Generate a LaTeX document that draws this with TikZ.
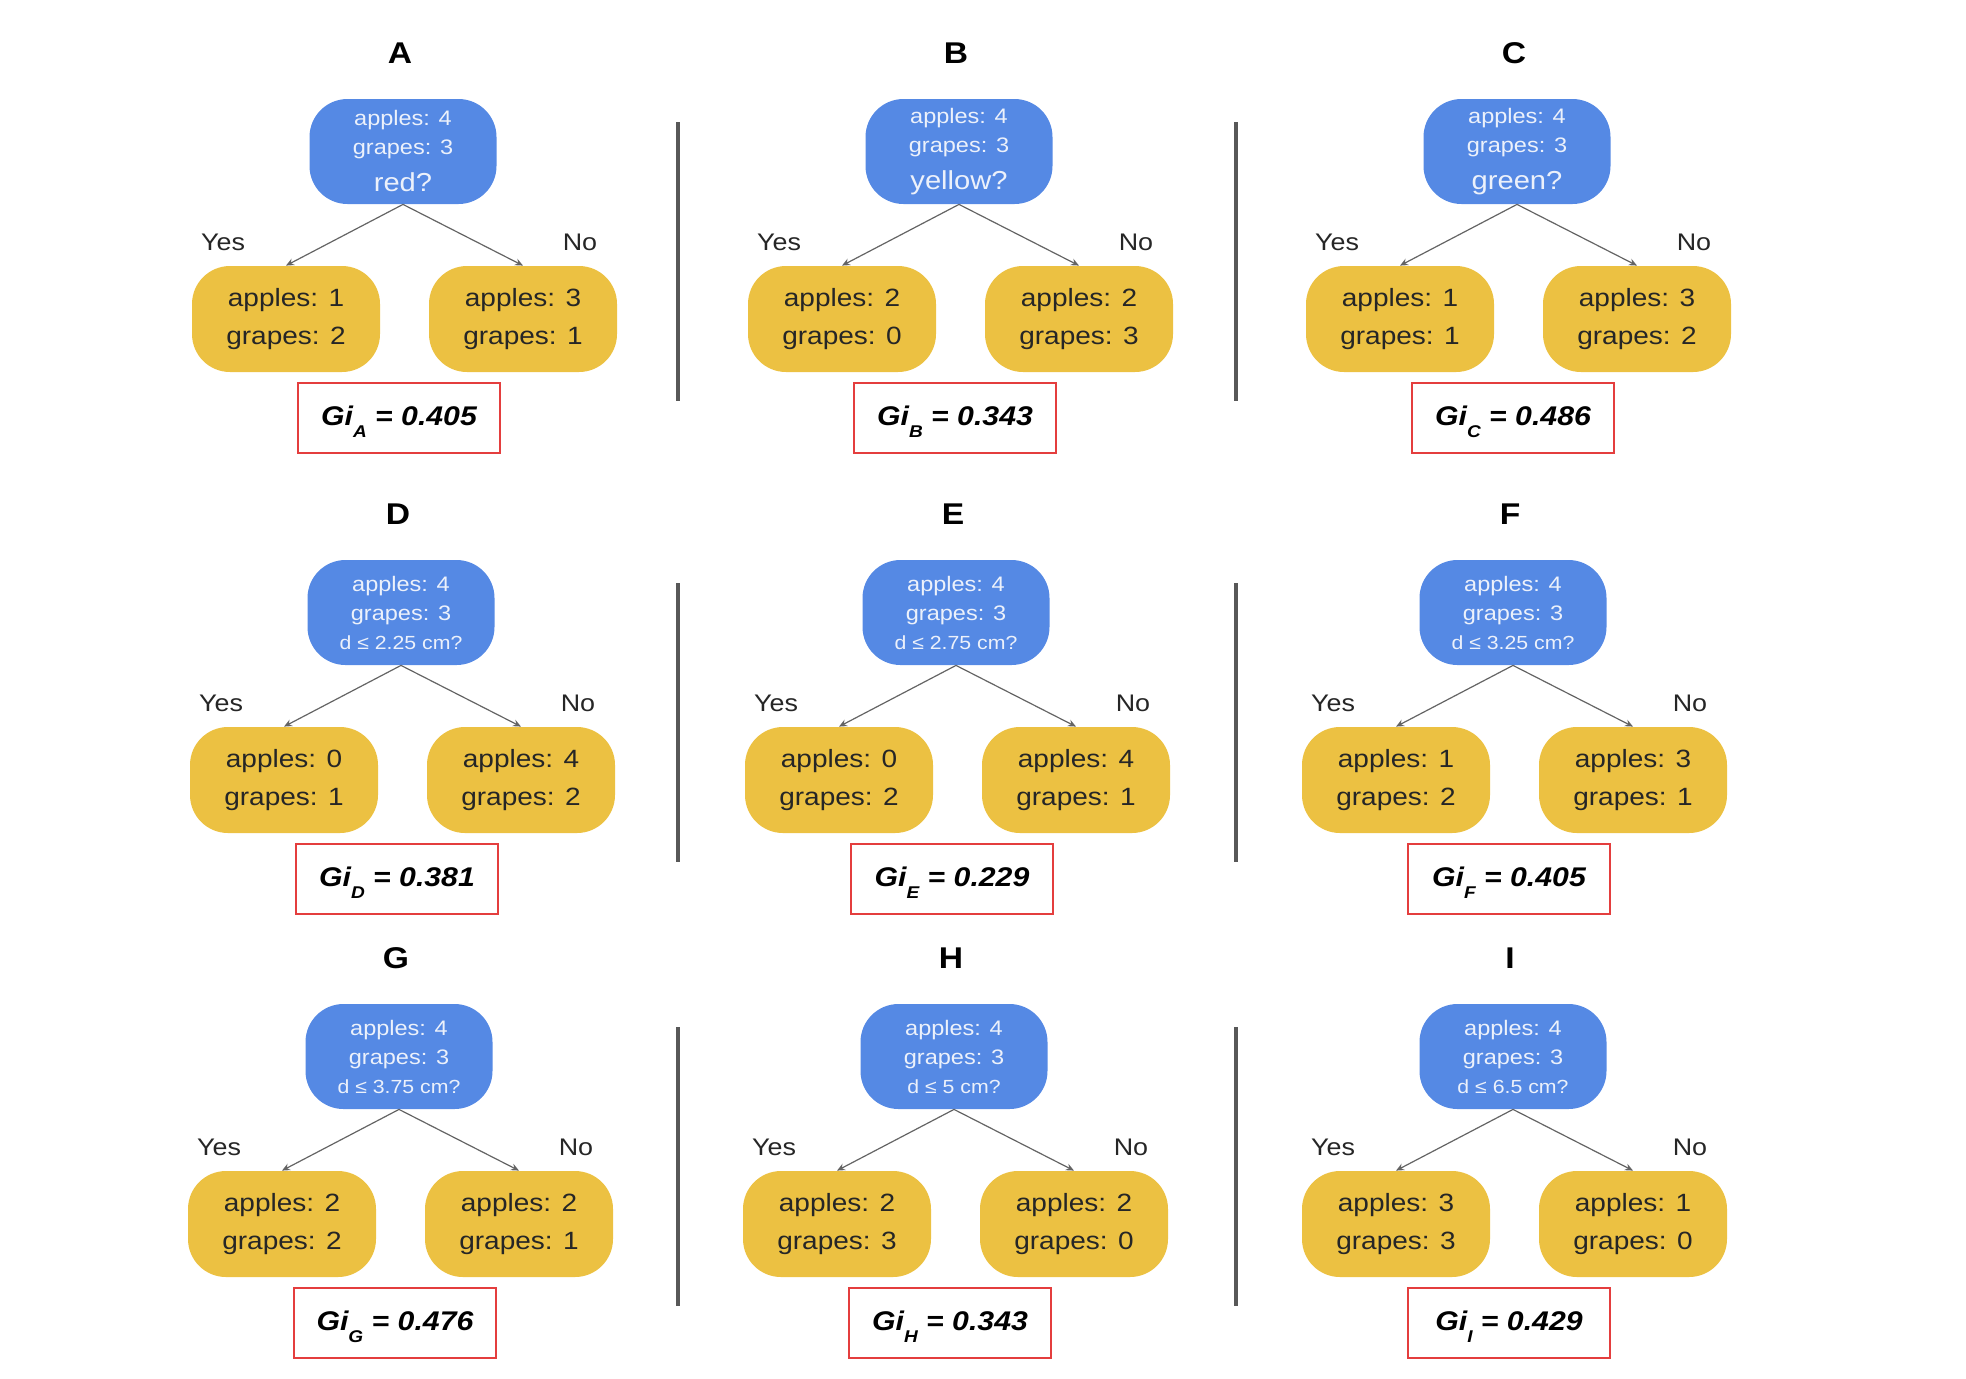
\documentclass[tikz,border=0pt]{standalone}
\usepackage{fontspec}
\setmainfont{Liberation Sans}[FakeStretch=1.12]
\usepackage{xcolor}
\usepackage{tikz}
\usetikzlibrary{arrows.meta}
\definecolor{splitblue}{RGB}{85, 137, 228}
\definecolor{leafyellow}{RGB}{236, 193,  66}
\definecolor{ginired}{RGB}{228,  62,  62}
\definecolor{rulegray}{RGB}{ 88,  88,  88}
\definecolor{arrowgray}{RGB}{100, 100, 100}
\definecolor{paletext}{RGB}{236, 241, 251}
\newcommand{\colq}[1]{\\[4pt]{\fontsize{13}{15}\selectfont #1}}
\newcommand{\distq}[1]{\\{\fontsize{9.5}{12}\selectfont d ≤ #1 cm?}}
\newcommand{\splitpanel}[9]{%
  \node[paneltitle] (#1title) at (#2-3, #3-46) {#1};
  \node[split] (#1root) at (#2, #3+52.5) {apples: 4\\grapes: 3#4};
  \node[leaf] (#1yes) at (#2-117, #3+220) {apples: #5\\grapes: #6};
  \node[leaf] (#1no) at (#2+120, #3+220) {apples: #7\\grapes: #8};
  \node[branch] (#1yeslabel) at (#2-180, #3+143) {Yes};
  \node[branch] (#1nolabel) at (#2+177, #3+143) {No};
  \node[gini] (#1gini) at (#2-4, #3+319) {Gi\raisebox{-6pt}{\fontsize{8.5}{9}\selectfont #1} = #9};
  \draw[arrow] (#1root.south) -- (#1yes.north);
  \draw[arrow] (#1root.south) -- (#1no.north);
}

\begin{document}
\begin{tikzpicture}[x=0.5pt, y=-0.5pt,
  split/.style={fill=splitblue, rounded corners=19pt, text=paletext,
                minimum width=93.5pt, minimum height=52.5pt, inner sep=0pt,
                align=center, font=\fontsize{10.5}{14.5}\selectfont},
  leaf/.style={fill=leafyellow, rounded corners=19pt, text=black!85,
               minimum width=94pt, minimum height=53pt, inner sep=0pt,
               align=center, font=\fontsize{12.5}{18.8}\selectfont},
  gini/.style={draw=ginired, line width=1.3pt, minimum width=101pt,
               minimum height=35pt, text height=9.7pt, text depth=2.2pt,
               font=\fontsize{13.5}{15}\selectfont\bfseries\itshape},
  paneltitle/.style={font=\fontsize{15}{18}\selectfont\bfseries},
  branch/.style={font=\fontsize{12}{14}\selectfont, text=black!85},
  arrow/.style={-{Stealth[length=4pt, width=3.5pt]}, line width=0.6pt, color=arrowgray},
  divider/.style={line width=2pt, color=rulegray}
]
  \useasboundingbox (0,0) rectangle (1966,1378);

  % colour splits
  \splitpanel{A}{403}{99}{\colq{red?}}{1}{2}{3}{1}{0.405}
  \splitpanel{B}{959}{99}{\colq{yellow?}}{2}{0}{2}{3}{0.343}
  \splitpanel{C}{1517}{99}{\colq{green?}}{1}{1}{3}{2}{0.486}

  % diameter splits
  \splitpanel{D}{401}{560}{\distq{2.25}}{0}{1}{4}{2}{0.381}
  \splitpanel{E}{956}{560}{\distq{2.75}}{0}{2}{4}{1}{0.229}
  \splitpanel{F}{1513}{560}{\distq{3.25}}{1}{2}{3}{1}{0.405}
  \splitpanel{G}{399}{1004}{\distq{3.75}}{2}{2}{2}{1}{0.476}
  \splitpanel{H}{954}{1004}{\distq{5}}{2}{3}{2}{0}{0.343}
  \splitpanel{I}{1513}{1004}{\distq{6.5}}{3}{3}{1}{0}{0.429}

  % column rules
  \foreach \ty in {99, 560, 1004}
    \foreach \rx in {678, 1236}
      \draw[divider] (\rx, \ty+23) -- (\rx, \ty+302);
\end{tikzpicture}
\end{document}
